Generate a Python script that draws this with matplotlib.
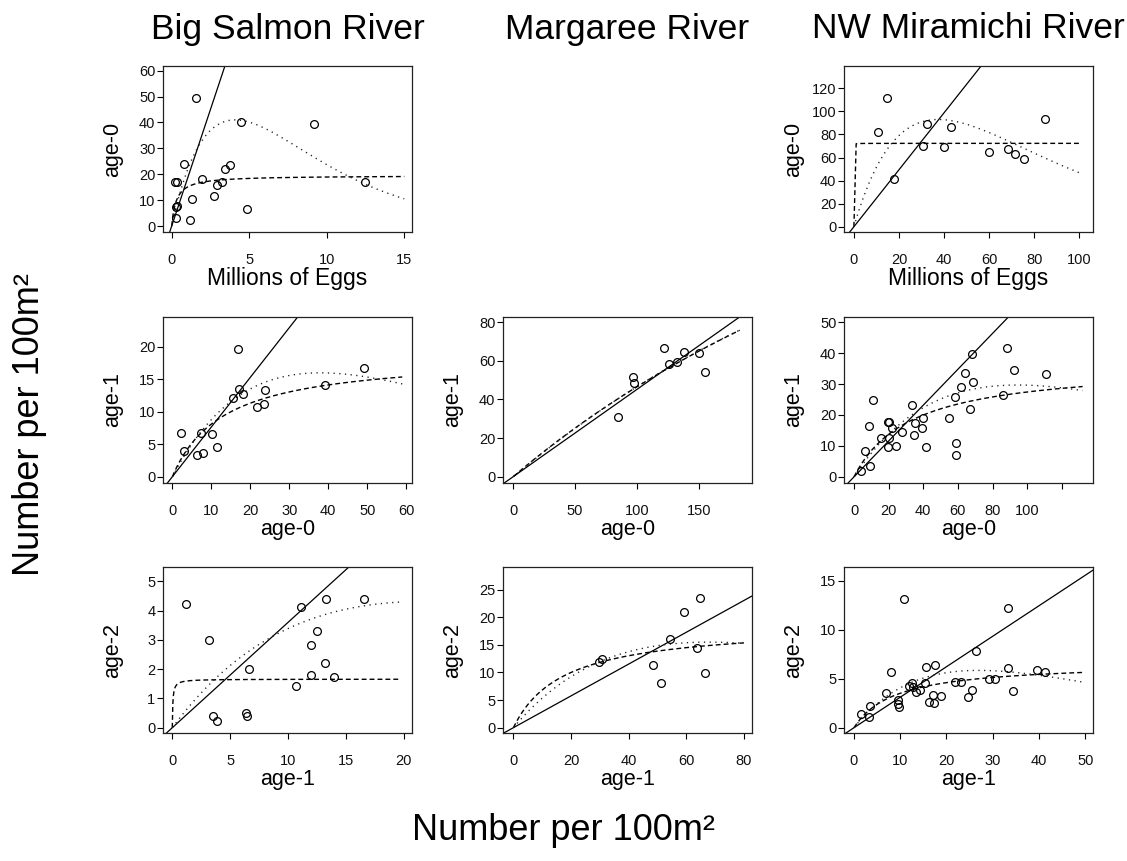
import numpy as np
import matplotlib
matplotlib.use("Agg")
import matplotlib.pyplot as plt
from matplotlib.transforms import offset_copy

plt.rcParams['font.family'] = ['Liberation Sans', 'DejaVu Sans']

# ---------------- data ----------------
rivers = ["Big Salmon River", "Margaree River", "NW Miramichi River"]

# Big Salmon: eggs -> age-0
bs_eggs = [1.57, 0.22, 0.32, 0.32, 0.26, 0.26, 0.80, 1.29, 1.16, 1.98, 2.76, 2.91,
           3.23, 3.45, 3.79, 4.48, 4.85, 9.18, 12.46]
bs_age0_e = [49.3, 16.9, 16.9, 7.7, 7.4, 3.0, 23.8, 10.4, 2.3, 18.1, 11.5, 15.8,
             17.1, 21.9, 23.7, 40.0, 6.4, 39.4, 16.9]
# Big Salmon: age-0 -> age-1
bs_age0 = [2.2, 3.1, 6.2, 7.8, 7.4, 10.3, 11.5, 15.6, 16.8, 17.0, 18.1, 21.7,
           23.5, 23.7, 39.3, 49.2]
bs_age1 = [6.8, 4.0, 3.3, 3.6, 6.7, 6.6, 4.6, 12.2, 19.7, 13.5, 12.7, 10.8,
           11.2, 13.3, 14.2, 16.8]
# Big Salmon: age-1 -> age-2
bs_age1b = [1.18, 3.17, 3.49, 3.89, 6.37, 6.46, 6.66, 10.67, 11.08, 11.97, 12.0,
            12.49, 13.15, 13.30, 13.96, 16.58]
bs_age2 = [4.21, 3.0, 0.40, 0.22, 0.52, 0.40, 2.0, 1.41, 4.11, 2.81, 1.81,
           3.30, 2.21, 4.40, 1.72, 4.40]

# Margaree: age-0 -> age-1
mg_age0 = [84.7, 96.6, 97.9, 121.9, 126.2, 132.7, 138.4, 150.3, 155.1]
mg_age1 = [31.1, 51.5, 48.4, 66.5, 58.2, 59.6, 64.8, 63.9, 54.4]
# Margaree: age-1 -> age-2
mg_age1b = [29.7, 30.9, 48.3, 51.1, 54.2, 59.3, 63.7, 64.7, 66.5]
mg_age2 = [11.95, 12.44, 11.4, 8.13, 16.1, 20.9, 14.5, 23.4, 9.83]

# NW Miramichi: eggs -> age-0
nw_eggs = [10.8, 14.5, 17.8, 30.8, 32.5, 40.1, 43.0, 60.1, 68.5, 71.6, 75.7, 84.9]
nw_age0_e = [82.4, 111.3, 41.1, 69.7, 88.8, 68.8, 86.8, 65.1, 67.4, 62.8, 59.0, 93.1]
# NW Miramichi: age-0 -> age-1
nw_age0 = [4.0, 6.5, 9.2, 8.8, 11.0, 15.8, 19.6, 20.2, 19.4, 20.2, 22.1, 24.0,
           27.7, 33.5, 34.8, 35.0, 39.4, 40.0, 41.5, 54.8, 58.5, 58.8, 58.7,
           61.9, 64.2, 66.7, 68.1, 68.8, 86.2, 88.1, 92.3, 110.6]
nw_age1 = [1.8, 8.3, 3.5, 16.5, 24.7, 12.6, 17.6, 17.6, 9.5, 12.4, 15.7, 9.9,
           14.4, 23.3, 13.6, 17.5, 15.9, 19.1, 9.5, 19.1, 25.7, 10.9, 7.2,
           29.2, 33.5, 21.9, 39.6, 30.6, 26.6, 41.6, 34.4, 33.4]
# NW Miramichi: age-1 -> age-2
nw_age1b = [1.59, 3.17, 3.54, 7.0, 8.08, 9.45, 9.45, 9.67, 10.75, 11.83, 12.63,
            12.84, 13.35, 14.21, 15.51, 15.44, 16.31, 17.17, 17.24, 17.53, 18.9,
            21.8, 23.16, 24.6, 25.47, 26.3, 29.1, 30.5, 33.3, 33.3, 34.3, 39.5, 41.4]
nw_age2 = [1.44, 1.13, 2.23, 3.53, 5.72, 2.81, 2.47, 2.09, 13.18, 4.21, 4.55,
           4.11, 3.60, 3.80, 6.16, 4.52, 2.64, 3.32, 2.57, 6.40, 3.22,
           4.69, 4.69, 3.12, 3.84, 7.81, 4.97, 4.97, 12.19, 6.06, 3.77, 5.89, 5.65]

# fitted model parameters
# proportional (solid): y = slope * x
prop_slope = {"bs0": 18.0, "nw0": 2.47, "bs1": 0.765, "mg1": 0.452, "nw1": 0.58,
              "bs2": 0.36, "mg2": 0.288, "nw2": 0.311}
# Beverton-Holt (dashed): y = M x / (K + x)
bh_M = {"bs0": 19.5, "nw0": 72.3, "bs1": 18.8, "mg1": 312, "nw1": 36.5,
        "bs2": 1.66, "mg2": 18.7, "nw2": 6.66}
bh_K = {"bs0": 0.3, "nw0": 0.005, "bs1": 13.2, "mg1": 570, "nw1": 33,
        "bs2": 0.05, "mg2": 17.4, "nw2": 8.96}
# Ricker (dotted): peak value P at xp
rk_P = {"bs0": 41, "nw0": 93, "bs1": 16, "mg1": 140, "nw1": 29.7,
        "bs2": 4.32, "mg2": 15.5, "nw2": 5.85}
rk_xp = {"bs0": 4.1, "nw0": 37.5, "bs1": 38, "mg1": 709, "nw1": 94.5,
         "bs2": 22, "mg2": 68, "nw2": 27}
curve_end = {"bs0": 15, "nw0": 100, "bs1": 59, "mg1": 183, "nw1": 132,
             "bs2": 19.6, "mg2": 80, "nw2": 50}
curve_step = {"bs0": 0.05, "nw0": 1.0, "bs1": 0.2, "mg1": 1.0, "nw1": 0.5,
              "bs2": 0.05, "mg2": 0.25, "nw2": 0.2}

# ---------------- layout ----------------
W, H = 1127, 861
fig = plt.figure(figsize=(W / 100, H / 100), dpi=100)

col_left = [163, 503, 844]
row_top = [66, 317, 567]
pw, ph = 249, 166

panels = [
    # key, row, col, x, y, xlim, ylim, xticks, yticks, xlabel, ylabel
    ("bs0", 0, 0, bs_eggs, bs_age0_e, (-0.56, 15.5), (-2.3, 61.8),
     [0, 5, 10, 15], [0, 10, 20, 30, 40, 50, 60], "Millions of Eggs", "age-0"),
    ("nw0", 0, 2, nw_eggs, nw_age0_e, (-4.4, 106.1), (-4.6, 139.4),
     [0, 20, 40, 60, 80, 100], [0, 20, 40, 60, 80, 100, 120], "Millions of Eggs", "age-0"),
    ("bs1", 1, 0, bs_age0, bs_age1, (-2.4, 61.5), (-0.97, 24.6),
     [0, 10, 20, 30, 40, 50, 60], [0, 5, 10, 15, 20], "age-0", "age-1"),
    ("mg1", 1, 1, mg_age0, mg_age1, (-8.3, 193), (-3.3, 82.7),
     [0, 50, 100, 150], [0, 20, 40, 60, 80], "age-0", "age-1"),
    ("nw1", 1, 2, nw_age0, nw_age1, (-5.8, 138), (-2.0, 51.7),
     [0, 20, 40, 60, 80, 100, 120], [0, 10, 20, 30, 40, 50], "age-0", "age-1"),
    ("bs2", 2, 0, bs_age1b, bs_age2, (-0.8, 20.7), (-0.18, 5.49),
     [0, 5, 10, 15, 20], [0, 1, 2, 3, 4, 5], "age-1", "age-2"),
    ("mg2", 2, 1, mg_age1b, mg_age2, (-3.6, 82.8), (-0.96, 29.1),
     [0, 20, 40, 60, 80], [0, 5, 10, 15, 20, 25], "age-1", "age-2"),
    ("nw2", 2, 2, nw_age1b, nw_age2, (-2.16, 51.7), (-0.54, 16.4),
     [0, 10, 20, 30, 40, 50], [0, 5, 10, 15], "age-1", "age-2"),
]

for key, r, c, xs, ys, xl, yl, xt, yt, xlab, ylab in panels:
    left = col_left[c] / W
    bottom = 1 - (row_top[r] + ph) / H
    ax = fig.add_axes([left, bottom, pw / W, ph / H])
    ax.set_xlim(*xl)
    ax.set_ylim(*yl)

    # model curves
    g = np.arange(0, curve_end[key] + 1e-9, curve_step[key])
    bh = bh_M[key] * g / (bh_K[key] + g)
    rk = rk_P[key] * (g / rk_xp[key]) * np.exp(1 - g / rk_xp[key])
    ax.axline((0, 0), slope=prop_slope[key], color="black", lw=0.9)
    ax.plot(g, bh, color="black", lw=1.0, dashes=(3.5, 2.2))
    ax.plot(g, rk, color="#222222", lw=1.0, dashes=(0.9, 3.2))

    ax.plot(xs, ys, linestyle="none", marker="o", markersize=5.6,
            markerfacecolor="none", markeredgecolor="black", markeredgewidth=0.9)

    ax.set_xticks(xt)
    xtl = [str(v) for v in xt]
    if key == "nw1":
        xtl[-1] = ""
    ax.set_xticklabels(xtl)
    ax.set_yticks(yt)
    ax.set_yticklabels([str(v) for v in yt])
    ax.tick_params(direction="out", length=4, width=0.8, labelsize=10.5,
                   color="black", labelcolor="#111111")
    ax.tick_params(axis="x", pad=11)
    ax.tick_params(axis="y", pad=1.5)
    for s in ax.spines.values():
        s.set_linewidth(0.9)
        s.set_color("#222222")

    # axis labels
    tx = offset_copy(ax.transAxes, fig=fig, x=0, y=-47 * 0.72, units="points")
    ax.text(0.5, 0, xlab, transform=tx, ha="center", va="center",
            fontsize=16.5 if xlab.startswith("Millions") else 15.5)
    ty = offset_copy(ax.transAxes, fig=fig, x=-50 * 0.72, y=0, units="points")
    ax.text(0, 0.5, ylab, transform=ty, ha="center", va="center",
            rotation=90, fontsize=15.5)

# column titles
for c, name in enumerate(rivers):
    fig.text((col_left[c] + pw / 2) / W, 1 - 29 / H, name,
             ha="center", va="center", fontsize=25.5)

# outer labels
fig.text(563 / W, 1 - 830 / H, "Number per 100m²", ha="center", va="center",
         fontsize=26)
fig.text(30 / W, 1 - 425 / H, "Number per 100m²", ha="center", va="center",
         rotation=90, fontsize=26)

fig.savefig("out.png", dpi=100)
